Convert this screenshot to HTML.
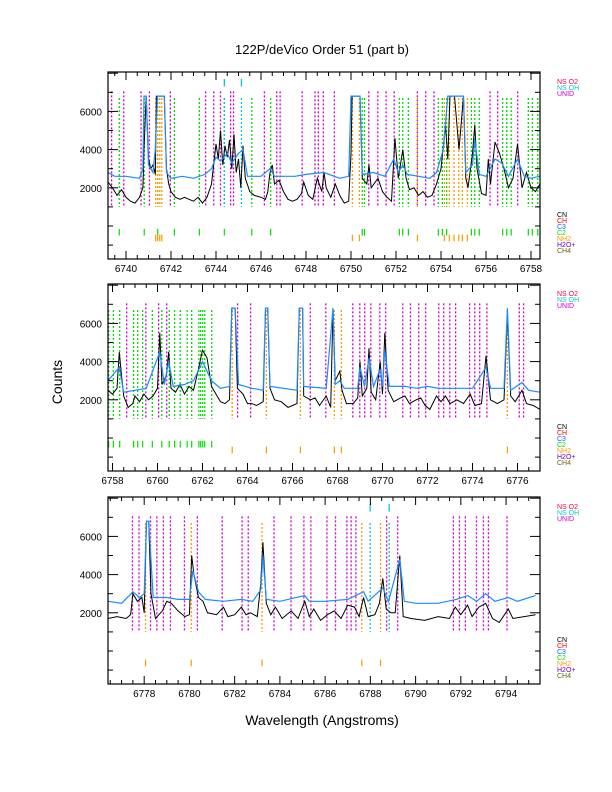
<!DOCTYPE html>
<html><head><meta charset="utf-8">
<style>
html,body{margin:0;padding:0;background:#fff;}
svg{display:block;font-family:"Liberation Sans",sans-serif;}
</style></head>
<body>
<svg id="chart" width="612" height="792" viewBox="0 0 612 792" xmlns="http://www.w3.org/2000/svg">
<text x="322" y="54" text-anchor="middle" font-size="13">122P/deVico Order 51 (part b)</text>
<text x="62" y="382" text-anchor="middle" font-size="14" transform="rotate(-90 62 382)">Counts</text>
<text x="322" y="725" text-anchor="middle" font-size="14">Wavelength (Angstroms)</text>
</svg>
<script>
// ---- Panel 1 data ----
const p1Black=[6739.2,2300,6739.4,2000,6739.6,1600,6739.8,1900,6740.0,1500,6740.2,1300,6740.4,1200,6740.6,1500,6740.75,2000,6740.8,4000,6740.9,6800,6741.0,3500,6741.1,3000,6741.2,3200,6741.3,2700,6741.35,6800,6741.5,6800,6741.7,6800,6741.8,3000,6741.9,2200,6742.0,1800,6742.2,1500,6742.4,1400,6742.6,1500,6742.8,1400,6743.0,1300,6743.2,1500,6743.4,1200,6743.6,1500,6743.8,2200,6744.0,4300,6744.1,3500,6744.2,5000,6744.3,3200,6744.4,4200,6744.5,3600,6744.6,4500,6744.7,3000,6744.8,4800,6744.9,2800,6745.0,3500,6745.1,2000,6745.2,4200,6745.3,2500,6745.5,1800,6745.7,1600,6746.0,1500,6746.2,1400,6746.3,1800,6746.4,2800,6746.5,3200,6746.6,2200,6746.8,2400,6747.0,1800,6747.2,1400,6747.4,1300,6747.6,1400,6747.8,1700,6747.9,2300,6748.1,1600,6748.3,1400,6748.5,2500,6748.7,1800,6748.8,2800,6748.9,2000,6749.1,1500,6749.3,2200,6749.5,1600,6749.7,1200,6749.9,1300,6750.0,3800,6750.05,6800,6750.4,6800,6750.5,2500,6750.7,2200,6750.8,3200,6750.9,2000,6751.2,2500,6751.4,1800,6751.6,1500,6751.8,1300,6751.95,4600,6752.1,2500,6752.3,4000,6752.45,2500,6752.6,1900,6752.8,2000,6753.0,1600,6753.2,1800,6753.4,1500,6753.6,1600,6753.8,2200,6754.0,3000,6754.2,5300,6754.3,3500,6754.4,6800,6754.6,6800,6754.8,4000,6755.0,6800,6755.1,2500,6755.2,2000,6755.4,3800,6755.5,5300,6755.6,3000,6755.8,1700,6756.0,1600,6756.1,3500,6756.2,2200,6756.4,4400,6756.6,3800,6756.8,3000,6757.0,2000,6757.2,2500,6757.4,4300,6757.6,2000,6757.8,2800,6758.0,2000,6758.2,1800,6758.4,2200];
const p1Blue=[6739.2,2800,6739.5,2600,6740,2600,6740.6,2500,6740.75,3000,6740.8,6800,6740.9,6800,6741.0,3200,6741.2,2800,6741.3,4000,6741.4,6800,6741.7,6800,6741.8,2800,6742.0,2500,6742.5,2600,6743,2500,6743.5,2700,6743.8,3000,6744.0,3600,6744.2,3400,6744.5,3800,6744.7,3300,6745.0,3800,6745.2,4000,6745.4,2600,6746,2600,6746.4,3000,6746.6,2600,6747,2600,6747.5,2600,6748,2700,6748.8,2800,6749.5,2500,6749.9,2600,6750.0,6800,6750.4,6800,6750.5,2700,6751,2800,6751.5,2600,6751.9,3500,6752.1,2800,6752.3,3200,6752.5,2700,6753,2600,6753.5,2500,6753.8,2800,6754.1,4000,6754.3,6800,6755.0,6800,6755.1,2800,6755.4,3200,6755.5,4500,6755.7,2700,6756,2600,6756.4,3500,6756.7,3300,6757,2600,6757.4,3500,6757.7,2600,6758,2500,6758.4,2600];
const p1Unid=[6739.36,6739.9,6740.67,6741.04,6741.97,6743.54,6743.9,6744.2,6744.65,6744.78,6746.15,6746.7,6746.85,6747.83,6748.4,6748.55,6748.77,6749.26,6750.79,6751.19,6751.56,6751.92,6752.95,6753.32,6753.69,6756.18,6756.52,6757.41];
const p1C2=[6739.7,6740.81,6741.41,6742.15,6743.26,6744.37,6745.59,6746.43,6750.5,6750.6,6752.15,6752.3,6752.55,6753.88,6754.06,6754.25,6755.35,6755.5,6755.7,6756.74,6756.92,6757.12,6757.88,6758.06,6758.3];
const p1NH2=[6741.32,6741.41,6741.5,6741.59,6750.06,6750.37,6752.95,6754.15,6754.37,6754.58,6754.79,6754.95,6755.17];
const p1OH=[6744.37,6745.13];
const p1Ticks=[6740,6742,6744,6746,6748,6750,6752,6754,6756,6758];
// ---- Panel 2 data ----
const p2Black=[6757.8,2500,6758.0,2300,6758.2,2600,6758.3,4500,6758.4,3300,6758.5,2200,6758.7,1600,6758.9,1800,6759.0,2200,6759.2,1900,6759.4,2300,6759.6,2000,6759.8,2200,6760.0,2600,6760.1,5500,6760.2,2800,6760.4,3300,6760.5,4500,6760.6,2600,6760.8,2400,6761.0,2800,6761.2,2300,6761.4,2700,6761.6,2500,6761.8,3500,6762.0,4600,6762.2,4200,6762.4,2700,6762.6,2300,6762.8,1900,6763.0,1800,6763.2,2000,6763.3,6800,6763.45,6800,6763.55,2600,6763.8,2300,6764.0,1800,6764.2,1800,6764.4,1700,6764.7,1900,6764.8,6800,6764.9,6800,6765.0,2600,6765.2,2000,6765.5,1900,6765.8,1600,6766.0,1700,6766.2,1800,6766.3,6800,6766.45,6800,6766.5,2200,6766.8,2000,6767.0,2100,6767.2,1700,6767.5,2200,6767.7,1600,6767.8,6800,6767.9,3000,6768.1,3500,6768.2,2500,6768.4,1800,6768.7,1800,6768.9,2100,6769.0,4000,6769.1,2200,6769.3,2600,6769.4,4700,6769.5,2400,6769.7,2000,6769.9,4000,6770.0,2300,6770.1,5500,6770.25,2500,6770.5,1900,6770.8,2100,6771.0,2200,6771.2,1800,6771.5,2000,6771.7,2100,6771.9,1700,6772.1,1500,6772.4,2200,6772.6,1900,6772.8,2200,6773.0,1800,6773.3,2000,6773.6,1800,6773.9,2300,6774.1,1700,6774.4,1800,6774.6,4300,6774.8,2000,6775.1,1800,6775.4,2000,6775.55,6500,6775.7,2200,6775.9,1900,6776.2,2500,6776.4,1800,6776.7,1700,6777.0,1500];
const p2Blue=[6757.8,3000,6758.3,3700,6758.5,2400,6759,2500,6759.5,2600,6760.1,4500,6760.3,2800,6760.5,4000,6760.7,2700,6761.2,2800,6761.6,3000,6762.0,4000,6762.4,3000,6762.8,2600,6763.2,2700,6763.3,6800,6763.45,6800,6763.6,2800,6764.2,2600,6764.7,2500,6764.8,6800,6764.9,6800,6765.0,2700,6766.2,2500,6766.3,6800,6766.45,6800,6766.5,2700,6767.5,2600,6767.8,6800,6767.9,2800,6768.1,3000,6768.3,2600,6768.9,2600,6769.0,3700,6769.2,2700,6769.4,4200,6769.6,2700,6769.9,3600,6770.0,2700,6770.1,4600,6770.3,2700,6771,2700,6771.5,2600,6772,2700,6772.5,2600,6773,2600,6773.5,2600,6774,2600,6774.6,3700,6774.8,2600,6775.4,2600,6775.55,6800,6775.7,2500,6776.2,2900,6776.5,2500,6777,2400];
const p2Unid=[6758.63,6759.48,6760.05,6760.41,6763.56,6764.14,6766.79,6767.48,6768.68,6768.99,6769.21,6769.48,6769.88,6770.14,6770.9,6771.24,6771.61,6771.92,6772.5,6772.72,6772.99,6773.25,6773.87,6774.1,6774.32,6774.64,6776.08,6776.27];
const p2C2=[6757.83,6758.04,6758.32,6758.94,6759.12,6759.34,6759.77,6760.19,6760.52,6760.76,6761.01,6761.32,6761.52,6761.84,6761.92,6762.01,6762.1,6762.41];
const p2NH2=[6763.32,6764.84,6766.35,6767.86,6768.17,6775.55];
const p2OH=[];
const p2Ticks=[6758,6760,6762,6764,6766,6768,6770,6772,6774,6776];
// ---- Panel 3 data ----
const p3Black=[6776.4,1700,6776.8,1800,6777.2,1700,6777.4,1900,6777.5,3000,6777.7,2600,6777.9,2800,6778.0,2000,6778.1,6800,6778.2,6800,6778.3,3000,6778.5,1700,6778.8,2100,6779.0,2600,6779.2,2500,6779.5,2100,6779.8,1800,6780.0,1900,6780.1,5000,6780.2,4000,6780.4,2800,6780.6,2600,6780.8,2000,6781.2,1900,6781.5,2300,6781.7,1800,6782.0,1900,6782.3,2300,6782.5,1900,6782.7,2000,6783.0,1800,6783.15,3500,6783.25,5700,6783.4,2500,6783.6,1900,6783.8,2300,6784.1,1700,6784.5,2100,6784.8,1700,6785.1,2600,6785.3,1800,6785.5,2200,6785.8,1600,6786.1,1900,6786.4,2100,6786.7,1700,6787.0,2400,6787.3,2300,6787.5,1800,6787.7,2800,6787.9,1800,6788.2,1900,6788.4,2500,6788.55,3800,6788.7,2200,6788.9,2000,6789.1,2000,6789.3,5000,6789.45,1800,6789.8,1700,6790.4,1600,6791.0,1800,6791.5,1700,6791.75,2300,6792.0,1900,6792.3,2400,6792.5,1800,6792.8,2300,6793.1,2500,6793.4,1700,6793.7,1500,6794.1,2200,6794.3,1700,6794.8,1800,6795.3,1900];
const p3Blue=[6776.4,2600,6777.0,2500,6777.5,3100,6777.8,2800,6778.0,3000,6778.1,6800,6778.2,6800,6778.4,2800,6779,2800,6779.5,2700,6780.0,2700,6780.15,4200,6780.4,3100,6780.7,2700,6781.5,2600,6782.3,2700,6782.8,2600,6783.15,3200,6783.25,5000,6783.4,2700,6784.0,2600,6785.1,2900,6785.3,2600,6786,2600,6787,2700,6787.7,3100,6787.9,2600,6788.55,3300,6788.8,2600,6789.3,4800,6789.5,2600,6790,2500,6791,2500,6791.8,2700,6792.3,2900,6792.7,2600,6793.1,3000,6793.5,2600,6794.1,2800,6794.5,2600,6795.3,2900];
const p3Unid=[6777.48,6777.77,6778.28,6778.56,6778.85,6779.16,6779.78,6780.35,6781.45,6782.33,6782.6,6783.74,6784.49,6785.06,6785.37,6786.08,6786.46,6786.96,6787.15,6787.36,6788.72,6789.21,6791.67,6791.94,6792.2,6792.69,6793.0,6793.22,6794.04];
const p3C2=[];
const p3NH2=[6778.06,6780.08,6783.21,6787.62,6788.45];
const p3OH=[6787.99,6788.83];
const p3Ticks=[6778,6780,6782,6784,6786,6788,6790,6792,6794];
const yTicks=[2000,4000,6000];

const NS="http://www.w3.org/2000/svg";
const svg=document.getElementById('chart');
function mk(tag,attrs,parent){const e=document.createElementNS(NS,tag);for(const k in attrs)e.setAttribute(k,attrs[k]);(parent||svg).appendChild(e);return e;}

function panel(idx,top,xmin,xmax,black,blue,unid,c2,nh2,oh,ticks){
  const L=108,R=540,T=top,B=top+187;
  const y0=T+154, k=19.1/1000;
  const X=w=>L+(w-xmin)/(xmax-xmin)*(R-L);
  const Y=v=>y0-v*k;
  const g=mk('g',{});
  
  
  const cid='clip'+idx;
  const cp=mk('clipPath',{id:cid},g);mk('rect',{x:L,y:T,width:R-L,height:B-T},cp);
  const lines=mk('g',{'clip-path':'url(#'+cid+')'},g);
  function vl(arr,col,top,name){arr.forEach(w=>{const l=mk('line',{x1:X(w),x2:X(w),y1:Y(top),y2:Y(1000),stroke:col,'stroke-width':1.3,'stroke-dasharray':'2,2'},lines);
    
    });}
  vl(unid,'#cc00cc',7050,'unid-line');
  vl(c2,'#00dd00',6700,'c2-line');
  vl(nh2,'#ff9900',6700,'nh2-line');
  vl(oh,'#00cccc',6700,'oh-line');
  oh.forEach(w=>{mk('line',{x1:X(w),x2:X(w),y1:Y(7700),y2:Y(7300),stroke:'#00cccc','stroke-width':1.3},lines);});
  c2.forEach(w=>{const t=mk('line',{x1:X(w),x2:X(w),y1:Y(-150),y2:Y(-500),stroke:'#00dd00','stroke-width':1.2},lines);
    
    });
  nh2.forEach(w=>{const t=mk('line',{x1:X(w),x2:X(w),y1:Y(-450),y2:Y(-800),stroke:'#ff9900','stroke-width':1.2},lines);
    
    });
  function series(arr,col,name,w){let d='';for(let i=0;i<arr.length;i+=2)d+=(i?'L':'M')+X(arr[i]).toFixed(1)+','+Y(arr[i+1]).toFixed(1);
    const p=mk('path',{d:d,fill:'none',stroke:col,'stroke-width':w},lines);
    
    }
  series(black,'#000','comet-spectrum',1);
  series(blue,'#1a8cff','model-spectrum',1.2);
  // frame
  const fr=mk('rect',{x:L,y:T,width:R-L,height:B-T,fill:'none',stroke:'#000','stroke-width':1.2},g);
  
  
  // x ticks
  for(let w=Math.ceil(xmin*2)/2;w<=xmax;w+=0.5){const x=X(w);const maj=Math.abs(w/2-Math.round(w/2))<1e-6;const len=maj?8:4;
    mk('line',{x1:x,x2:x,y1:B,y2:B-len,stroke:'#000'},g);mk('line',{x1:x,x2:x,y1:T,y2:T+len,stroke:'#000'},g);}
  ticks.forEach(w=>{const t=mk('text',{x:X(w),y:B+13,'text-anchor':'middle','font-size':10},g);t.textContent=w;
    
    });
  for(let v=-1000;v<=8000;v+=1000){const y=Y(v);if(y<T||y>B)continue;const len=(v%2000===0&&v>0)?10:5;
    mk('line',{x1:L,x2:L+len,y1:y,y2:y,stroke:'#000'},g);mk('line',{x1:R,x2:R-len,y1:y,y2:y,stroke:'#000'},g);}
  yTicks.forEach(v=>{const t=mk('text',{x:L-6,y:Y(v)+4,'text-anchor':'end','font-size':10},g);t.textContent=v;
    
    });
  // legends
  const lg1=[['NS O2','#ff0044'],['NS OH','#00cccc'],['UNID','#cc00cc']];
  lg1.forEach((e,i)=>{const t=mk('text',{x:557,y:T+12+i*6,'font-size':7,fill:e[1]},g);t.textContent=e[0];
    
    });
  const lg2=[['CN','#000'],['CH','#ff0000'],['C3','#0066ff'],['C2','#00dd00'],['NH2','#ff9900'],['H2O+','#6600cc'],['CH4','#666600']];
  lg2.forEach((e,i)=>{const t=mk('text',{x:557,y:T+145+i*6,'font-size':7,fill:e[1]},g);t.textContent=e[0];
    
    });
}
panel(1,72,6739.2,6758.4,p1Black,p1Blue,p1Unid,p1C2,p1NH2,p1OH,p1Ticks);
panel(2,284,6757.8,6777.0,p2Black,p2Blue,p2Unid,p2C2,p2NH2,p2OH,p2Ticks);
panel(3,497,6776.4,6795.5,p3Black,p3Blue,p3Unid,p3C2,p3NH2,p3OH,p3Ticks);
</script>
</body></html>
